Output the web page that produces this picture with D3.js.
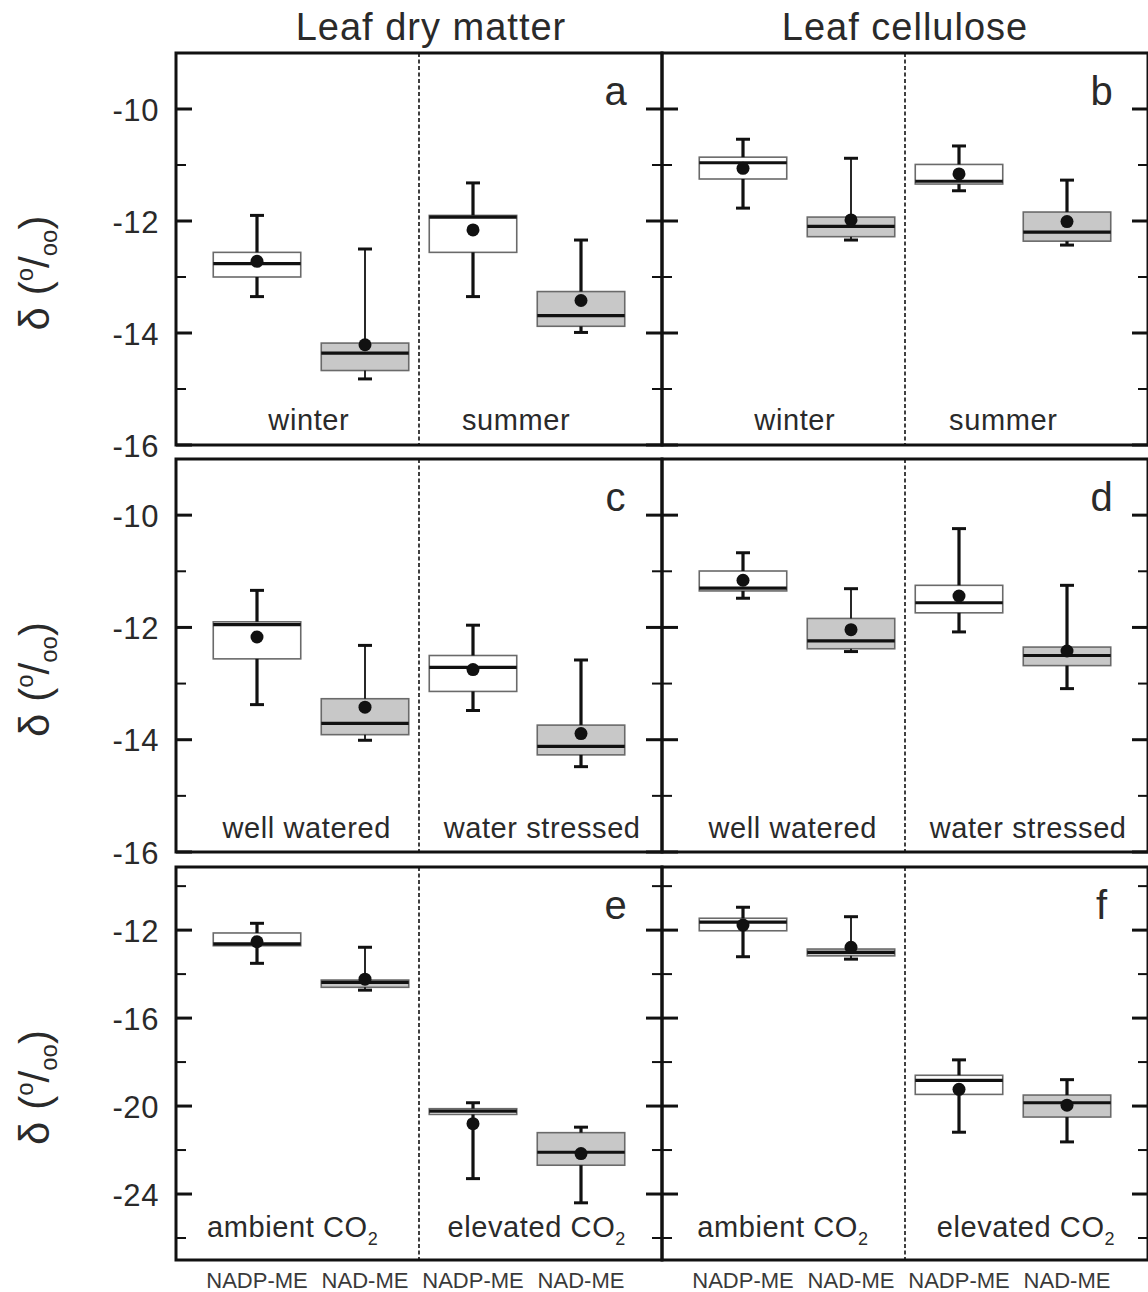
<!DOCTYPE html>
<html><head><meta charset="utf-8">
<script src="https://cdn.jsdelivr.net/npm/d3@7"></script>
<style>
html,body{margin:0;padding:0;background:#fff;}
svg{display:block;font-family:"Liberation Sans",Arial,Helvetica,sans-serif;}
</style></head>
<body>
<script>
// ---------------- DATA ----------------
const columnTitles = ["Leaf dry matter", "Leaf cellulose"];
const panelLetters = [["a", "b"], ["c", "d"], ["e", "f"]];
const conditions = [["winter", "summer"], ["well watered", "water stressed"], ["ambient CO|2", "elevated CO|2"]];
const enzymes = ["NADP-ME", "NAD-ME", "NADP-ME", "NAD-ME"];
const yTicksTop = [-10, -11, -12, -13, -14, -15, -16];
const yLabelsTop = [-10, -12, -14, -16];
const yTicksBottom = [-10, -12, -14, -16, -18, -20, -22, -24, -26];
const yLabelsBottom = [-12, -16, -20, -24];
// each box: [whiskerLow, q1, median, q3, whiskerHigh, mean]
const panelA = [[-13.35, -13.0, -12.76, -12.56, -11.9, -12.72], [-14.82, -14.67, -14.36, -14.18, -12.5, -14.21], [-13.35, -12.56, -11.93, -11.9, -11.32, -12.16], [-13.99, -13.88, -13.69, -13.26, -12.34, -13.42]];
const panelB = [[-11.77, -11.25, -10.96, -10.86, -10.54, -11.06], [-12.34, -12.28, -12.095, -11.93, -10.88, -11.98], [-11.46, -11.34, -11.29, -10.99, -10.66, -11.16], [-12.43, -12.36, -12.2, -11.84, -11.27, -12.01]];
const panelC = [[-13.375, -12.56, -11.95, -11.9, -11.34, -12.17], [-14.01, -13.91, -13.71, -13.27, -12.32, -13.42], [-13.48, -13.14, -12.71, -12.5, -11.96, -12.75], [-14.48, -14.27, -14.12, -13.74, -12.58, -13.89]];
const panelD = [[-11.48, -11.35, -11.30, -10.995, -10.67, -11.16], [-12.43, -12.38, -12.24, -11.84, -11.31, -12.04], [-12.08, -11.74, -11.56, -11.25, -10.24, -11.44], [-13.09, -12.68, -12.5, -12.35, -11.25, -12.42]];
const panelE = [[-13.51, -12.71, -12.63, -12.13, -11.69, -12.53], [-14.73, -14.6, -14.38, -14.27, -12.78, -14.23], [-23.3, -20.38, -20.23, -20.12, -19.85, -20.8], [-24.4, -22.69, -22.1, -21.21, -20.96, -22.16]];
const panelF = [[-13.21, -12.03, -11.64, -11.46, -10.96, -11.77], [-13.32, -13.17, -13.01, -12.86, -11.39, -12.78], [-21.19, -19.47, -18.83, -18.6, -17.9, -19.24], [-21.63, -20.5, -19.85, -19.5, -18.8, -19.96]];
const panels = [[panelA, panelB], [panelC, panelD], [panelE, panelF]];

// ---------------- LAYOUT ----------------
const W = 1148, H = 1292;
const colX = [176, 662], colW = 486;
const titleShift = [12, 0];
const rowTop = [53, 459, 867], rowBot = [445, 852, 1260];
const rowDomain = [[-16, -9], [-16, -9], [-27, -9.13]];
const labelPos = [[[1.23, 3.15], [1.23, 3.16]], [[1.21, 3.39], [1.21, 3.39]], [[1.08, 3.34], [1.12, 3.37]]];
const condBaseline = [-15, -14, -23];
const textCol = "#2a2a2a";
const font = 'Liberation Sans, Arial, Helvetica, sans-serif';

const svg = d3.select("body").append("svg").attr("width", W).attr("height", H);

// column titles
columnTitles.forEach((t, c) => {
  svg.append("text").attr("x", colX[c] + colW / 2 + titleShift[c]).attr("y", 40)
    .attr("text-anchor", "middle").attr("font-size", 38).attr("letter-spacing", 1)
    .attr("fill", textCol).text(t);
});

function addSubText(sel, str, subSize) {
  const parts = str.split("|");
  sel.append("tspan").text(parts[0]);
  if (parts[1]) sel.append("tspan").attr("font-size", subSize).attr("dy", 8).text(parts[1]);
}

for (let r = 0; r < 3; r++) {
  const y = d3.scaleLinear().domain(rowDomain[r]).range([rowBot[r], rowTop[r]]);
  const ticks = r < 2 ? yTicksTop : yTicksBottom;
  const labels = r < 2 ? yLabelsTop : yLabelsBottom;

  // y tick labels (left)
  const ax = svg.append("g").attr("transform", `translate(${colX[0] - 17},0)`)
    .call(d3.axisLeft(y).tickValues(labels).tickSize(0).tickPadding(0).tickFormat(d => d.toString()));
  ax.select(".domain").remove();
  ax.selectAll("text").attr("font-size", 31).attr("letter-spacing", 0.6).attr("fill", textCol).attr("font-family", font).attr("dy", "0.36em");

  // y axis title
  const yc = (rowTop[r] + rowBot[r]) / 2 + 24;
  const lab = svg.append("text").attr("transform", `translate(49,${yc}) rotate(-90)`)
    .attr("text-anchor", "middle").attr("font-size", 42).attr("fill", textCol);
  lab.append("tspan").text("δ (");
  lab.append("tspan").attr("font-size", 24).attr("dy", -16).text("o");
  lab.append("tspan").attr("dy", 16).text("/");
  lab.append("tspan").attr("font-size", 24).attr("dy", 8).text("oo");
  lab.append("tspan").attr("dy", -8).text(")");

  for (let c = 0; c < 2; c++) {
    const x = d3.scaleLinear().domain([0, 4.5]).range([colX[c], colX[c] + colW]);
    const g = svg.append("g");
    const data = panels[r][c];
    const hw = x(0.405) - x(0);

    // dashed divider
    g.append("line").attr("x1", x(2.25)).attr("x2", x(2.25)).attr("y1", rowTop[r]).attr("y2", rowBot[r])
      .attr("stroke", "#111").attr("stroke-width", 1.6).attr("stroke-dasharray", "4,2.5");

    // ticks inside, left and right
    const isMajor = v => labels.includes(v) || (r < 2 && v % 2 === 0);
    ticks.forEach(v => {
      const len = isMajor(v) ? 16 : 10;
      const sw = isMajor(v) ? 3 : 2;
      g.append("line").attr("x1", x(0)).attr("x2", x(0) + len).attr("y1", y(v)).attr("y2", y(v))
        .attr("stroke", "#111").attr("stroke-width", sw);
      g.append("line").attr("x1", x(4.5)).attr("x2", x(4.5) - len).attr("y1", y(v)).attr("y2", y(v))
        .attr("stroke", "#111").attr("stroke-width", sw);
    });

    // boxes
    data.forEach((d, i) => {
      const [wlo, q1, med, q3, whi, mean] = d;
      const cx = x(i + 0.75);
      const wsw = i === 1 ? 1.8 : 3.2;
      g.append("rect").attr("x", cx - hw).attr("width", 2 * hw)
        .attr("y", y(q3)).attr("height", Math.max(1, y(q1) - y(q3)))
        .attr("fill", i % 2 === 0 ? "#ffffff" : "#c8c8c8").attr("stroke", "#6a6a6a").attr("stroke-width", 1.6);
      // whiskers
      g.append("line").attr("x1", cx).attr("x2", cx).attr("y1", y(q3)).attr("y2", y(whi)).attr("stroke", "#111").attr("stroke-width", wsw);
      g.append("line").attr("x1", cx).attr("x2", cx).attr("y1", y(q1)).attr("y2", y(wlo)).attr("stroke", "#111").attr("stroke-width", wsw);
      [whi, wlo].forEach(v => {
        g.append("line").attr("x1", cx - 7).attr("x2", cx + 7).attr("y1", y(v)).attr("y2", y(v)).attr("stroke", "#111").attr("stroke-width", 3);
      });
      // median
      g.append("line").attr("x1", cx - hw).attr("x2", cx + hw).attr("y1", y(med)).attr("y2", y(med)).attr("stroke", "#111").attr("stroke-width", 3.2);
      // mean
      g.append("circle").attr("cx", cx).attr("cy", y(mean)).attr("r", 6.5).attr("fill", "#111");
    });

    // condition labels
    conditions[r].forEach((t, k) => {
      const tx = g.append("text").attr("x", x(labelPos[r][c][k])).attr("y", rowBot[r] + condBaseline[r])
        .attr("text-anchor", "middle").attr("font-size", 29).attr("letter-spacing", 0.6).attr("fill", textCol);
      addSubText(tx, t, 18);
    });

    // panel letter
    g.append("text").attr("x", x(4.07)).attr("y", rowTop[r] + 52).attr("text-anchor", "middle")
      .attr("font-size", 40).attr("fill", textCol).text(panelLetters[r][c]);

    // frame
    g.append("rect").attr("x", x(0)).attr("y", rowTop[r]).attr("width", colW).attr("height", rowBot[r] - rowTop[r])
      .attr("fill", "none").attr("stroke", "#111").attr("stroke-width", 3);

    // enzyme labels bottom
    if (r === 2) {
      enzymes.forEach((t, i) => {
        svg.append("text").attr("x", x(i + 0.75)).attr("y", 1288).attr("text-anchor", "middle")
          .attr("font-size", 22).attr("fill", "#3a3a3a").text(t);
      });
    }
  }
}
</script>
</body></html>
